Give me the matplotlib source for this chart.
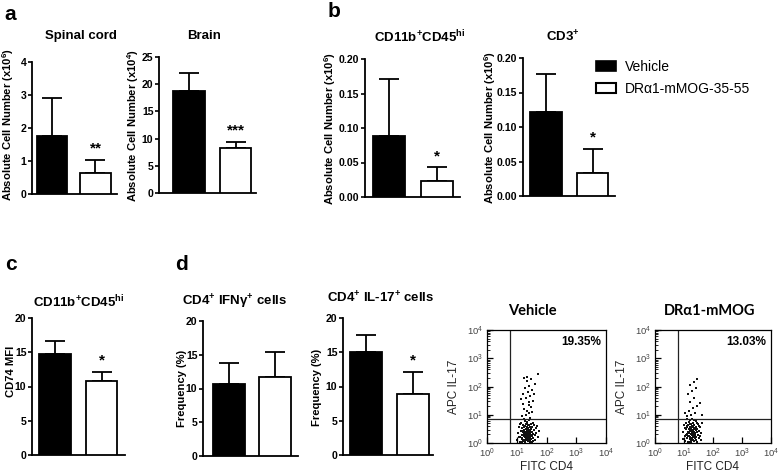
import matplotlib
matplotlib.use('Agg')
import matplotlib.pyplot as plt
from matplotlib.patches import Patch
import numpy as np

plt.rcParams['font.family'] = ['Liberation Sans', 'DejaVu Sans']
plt.rcParams['mathtext.fontset'] = 'custom'
plt.rcParams['mathtext.rm'] = 'Liberation Sans'
plt.rcParams['mathtext.bf'] = 'Liberation Sans:bold'
plt.rcParams['mathtext.it'] = 'Liberation Sans:italic'

# ---- data (mean and upper error) ----
groups = ['Vehicle', 'DR\u03b11-mMOG-35-55']
spinal_mean = [1.76, 0.64]
spinal_sem = [1.16, 0.39]
brain_mean = [18.7, 8.2]
brain_sem = [3.3, 1.2]
cd11b_mean = [0.088, 0.023]
cd11b_sem = [0.083, 0.020]
cd3_mean = [0.122, 0.034]
cd3_sem = [0.055, 0.034]
cd74_mean = [14.7, 10.8]
cd74_sem = [1.9, 1.3]
ifng_mean = [10.7, 11.7]
ifng_sem = [3.1, 3.7]
il17_mean = [15.0, 8.9]
il17_sem = [2.5, 3.2]

# flow cytometry events, log10 units (FITC CD4, APC IL-17)
veh_x = [1.02, 1.05, 1.08, 1.10, 1.12, 1.14, 1.15, 1.17, 1.18, 1.19,
         1.20, 1.21, 1.22, 1.23, 1.24, 1.25, 1.26, 1.26, 1.27, 1.28,
         1.28, 1.29, 1.30, 1.30, 1.31, 1.32, 1.32, 1.33, 1.33, 1.34,
         1.34, 1.35, 1.35, 1.36, 1.36, 1.37, 1.37, 1.38, 1.38, 1.39,
         1.39, 1.40, 1.40, 1.41, 1.41, 1.42, 1.42, 1.43, 1.43, 1.44,
         1.45, 1.45, 1.46, 1.47, 1.47, 1.48, 1.49, 1.50, 1.51, 1.52,
         1.53, 1.54, 1.55, 1.56, 1.58, 1.60, 1.62, 1.64, 1.66, 1.70,
         1.16, 1.24, 1.29, 1.31, 1.34, 1.37, 1.40, 1.44, 1.27, 1.22,
         1.19, 1.36, 1.33, 1.46, 1.50, 1.57, 1.11, 1.06, 1.74, 1.68,
         1.18, 1.30, 1.42, 1.36, 1.25, 1.48, 1.20, 1.40, 1.55, 1.30,
         1.45, 1.22, 1.38, 1.52, 1.28, 1.42, 1.60, 1.33, 1.48, 1.25,
         1.40, 1.50, 1.15, 1.58, 1.35, 1.72, 1.45]
veh_y = [0.12, 0.35, 0.58, 0.20, 0.05, 0.44, 0.72, 0.28, 0.15, 0.52,
         0.38, 0.08, 0.62, 0.24, 0.46, 0.33, 0.12, 0.55, 0.78, 0.20,
         0.40, 0.04, 0.30, 0.50, 0.66, 0.16, 0.36, 0.26, 0.45, 0.09,
         0.58, 0.34, 0.22, 0.42, 0.70, 0.14, 0.30, 0.52, 0.38, 0.06,
         0.25, 0.47, 0.62, 0.18, 0.35, 0.28, 0.80, 0.10, 0.44, 0.56,
         0.22, 0.37, 0.03, 0.50, 0.30, 0.66, 0.15, 0.40, 0.25, 0.55,
         0.08, 0.33, 0.72, 0.18, 0.46, 0.28, 0.10, 0.52, 0.36, 0.20,
         0.02, 0.85, 0.60, 0.10, 0.48, 0.64, 0.12, 0.26, 0.32, 0.42,
         0.18, 0.55, 0.75, 0.58, 0.05, 0.62, 0.66, 0.22, 0.42, 0.60,
         0.95, 1.00, 1.05, 1.15, 1.22, 1.28, 1.38, 1.45, 1.50, 1.58,
         1.65, 1.72, 1.80, 1.88, 1.95, 2.02, 2.10, 2.18, 2.25, 2.30,
         1.35, 1.10, 1.55, 1.75, 2.35, 2.45, 0.90]
dr_x = [0.95, 0.98, 1.00, 1.02, 1.04, 1.06, 1.08, 1.09, 1.10, 1.12,
        1.13, 1.14, 1.15, 1.16, 1.17, 1.18, 1.19, 1.20, 1.20, 1.21,
        1.22, 1.23, 1.23, 1.24, 1.25, 1.25, 1.26, 1.27, 1.27, 1.28,
        1.28, 1.29, 1.30, 1.30, 1.31, 1.32, 1.32, 1.33, 1.34, 1.34,
        1.35, 1.36, 1.36, 1.37, 1.38, 1.39, 1.40, 1.40, 1.41, 1.42,
        1.43, 1.44, 1.45, 1.46, 1.47, 1.48, 1.50, 1.52, 1.54, 1.56,
        1.58, 1.60, 1.62, 1.11, 1.18, 1.26, 1.30, 1.21, 1.16, 1.07,
        1.03, 1.13, 1.24, 1.35, 1.44, 1.50, 1.39, 1.29, 1.19, 1.09,
        1.10, 1.25, 1.38, 1.18, 1.30, 1.45, 1.22, 1.35, 1.15, 1.28,
        1.40, 1.20, 1.33, 1.45, 1.55, 1.05, 1.62]
dr_y = [0.15, 0.40, 0.62, 0.25, 0.08, 0.48, 0.70, 0.32, 0.18, 0.55,
        0.40, 0.05, 0.65, 0.26, 0.50, 0.36, 0.14, 0.58, 0.80, 0.22,
        0.44, 0.03, 0.32, 0.52, 0.68, 0.17, 0.38, 0.28, 0.47, 0.10,
        0.60, 0.35, 0.23, 0.43, 0.72, 0.12, 0.31, 0.54, 0.40, 0.07,
        0.26, 0.48, 0.63, 0.19, 0.36, 0.29, 0.78, 0.11, 0.45, 0.57,
        0.21, 0.38, 0.04, 0.51, 0.30, 0.66, 0.16, 0.42, 0.26, 0.56,
        0.09, 0.34, 0.70, 0.84, 0.02, 0.86, 0.58, 0.66, 0.76, 0.30,
        0.52, 0.24, 0.12, 0.82, 0.72, 0.60, 0.52, 0.15, 0.46, 0.60,
        0.95, 1.00, 1.05, 1.15, 1.25, 1.30, 1.45, 1.60, 1.75, 1.85,
        1.95, 2.05, 2.15, 2.25, 1.40, 1.05, 1.00]
veh_pct = '19.35%'
dr_pct = '13.03%'

W, H = 778, 475
fig = plt.figure(figsize=(W / 100, H / 100), dpi=100)


def px_axes(left, top, right, bottom):
    return fig.add_axes([left / W, 1 - bottom / H, (right - left) / W, (bottom - top) / H])


def bar_panel(box, mean, sem, ymax, yticks, fmt, star):
    axis_x, b1l, b1r, b2l, b2r, end_x, top, bottom = box
    ax = px_axes(axis_x, top, end_x, bottom)
    c1 = (b1l + b1r) / 2
    c2 = (b2l + b2r) / 2
    sp = c2 - c1
    width = ((b1r - b1l) + (b2r - b2l)) / 2 / sp
    ax.bar([0, 1], mean, width=width, color=['black', 'white'],
           edgecolor='black', linewidth=1.3, zorder=3)
    ax.errorbar([0, 1], mean, yerr=[[0, 0], sem], fmt='none', ecolor='black',
                elinewidth=1.3, capsize=7, capthick=1.3, zorder=2)
    ax.set_xlim((axis_x - c1) / sp, (end_x - c1) / sp)
    ax.set_ylim(0, ymax)
    ax.spines['top'].set_visible(False)
    ax.spines['right'].set_visible(False)
    ax.spines['left'].set_linewidth(1.3)
    ax.spines['bottom'].set_linewidth(1.3)
    ax.set_xticks([])
    ax.set_yticks(yticks)
    ax.set_yticklabels([fmt.format(t) for t in yticks], fontweight='bold', fontsize=7.6)
    ax.tick_params(axis='y', length=3, width=1.2, pad=1)
    ax.patch.set_alpha(0)
    if star:
        ax.annotate(star, (1, mean[1] + sem[1]), xytext=(0, 3), textcoords='offset points',
                    ha='center', va='bottom', fontsize=11, fontweight='bold')
    return ax


bar_panel((32, 36, 68, 81, 110, 117, 62, 194), spinal_mean, spinal_sem, 4, [0, 1, 2, 3, 4], '{:g}', '**')
bar_panel((159, 173, 205, 220, 251, 256, 57, 193), brain_mean, brain_sem, 25, [0, 5, 10, 15, 20, 25], '{:g}', '***')
bar_panel((365, 373, 405, 421, 453, 460, 59, 197), cd11b_mean, cd11b_sem, 0.20,
          [0, 0.05, 0.10, 0.15, 0.20], '{:.2f}', '*')
bar_panel((523, 530, 562, 577, 608, 615, 58, 196), cd3_mean, cd3_sem, 0.20,
          [0, 0.05, 0.10, 0.15, 0.20], '{:.2f}', '*')
bar_panel((32, 39, 71, 86, 117, 125, 318, 455), cd74_mean, cd74_sem, 20, [0, 5, 10, 15, 20], '{:g}', '*')
bar_panel((203, 213, 245, 259, 291, 298, 321, 456), ifng_mean, ifng_sem, 20, [0, 5, 10, 15, 20], '{:g}', '')
bar_panel((343, 349, 382, 397, 428, 433, 318, 455), il17_mean, il17_sem, 20, [0, 5, 10, 15, 20], '{:g}', '*')


def flow_panel(box, xs, ys, pct):
    left, top, right, bottom = box
    ax = px_axes(left, top, right, bottom)
    ax.set_xscale('log')
    ax.set_yscale('log')
    ax.set_xlim(1, 1e4)
    ax.set_ylim(1, 1e4)
    ax.scatter(np.power(10.0, xs), np.power(10.0, ys), s=0.6, marker='s',
               color='#111111', linewidths=0)
    ax.axvline(10 ** 0.78, color='#222222', lw=0.9)
    ax.axhline(10 ** 0.84, color='#222222', lw=0.9)
    for s in ax.spines.values():
        s.set_linewidth(0.9)
    ax.set_xticks([1, 10, 100, 1000, 10000])
    ax.set_yticks([1, 10, 100, 1000, 10000])
    ax.set_xticklabels(['$10^0$', '$10^1$', '$10^2$', '$10^3$', '$10^4$'])
    ax.set_yticklabels(['$10^0$', '$10^1$', '$10^2$', '$10^3$', '$10^4$'])
    ax.tick_params(which='both', direction='in', labelsize=6.8, labelcolor='#444444',
                   top=False, right=False)
    ax.tick_params(axis='x', pad=3)
    ax.tick_params(axis='y', pad=3)
    ax.tick_params(which='major', length=4, width=0.9)
    ax.tick_params(which='minor', length=2.5, width=0.6)
    ax.text(0.96, 0.87, pct, transform=ax.transAxes, ha='right', va='baseline',
            fontsize=8.5, fontweight='bold')
    return ax


flow_panel((487, 330, 606, 443), veh_x, veh_y, veh_pct)
flow_panel((655, 330, 771, 443), dr_x, dr_y, dr_pct)


def ftext(x, y, s, **kw):
    fig.text(x / W, 1 - y / H, s, **kw)


# panel letters
for x, y, s in [(4, 20, 'a'), (328, 17, 'b'), (5, 270, 'c'), (175, 270, 'd')]:
    ftext(x, y, s, fontsize=15, fontweight='bold', va='baseline', ha='left')

# titles
hi = r'CD11b$^{\mathbf{+}}$CD45$^{\mathbf{hi}}$'
for x, y, s in [(81, 39, 'Spinal cord'), (204, 39, 'Brain'), (420, 42, hi),
                (563, 42, r'CD3$^{\mathbf{+}}$'), (79, 307, hi),
                (235, 306, r'CD4$^{\mathbf{+}}$ IFN$\mathbf{\gamma}^{\mathbf{+}}$ cells'),
                (381, 303, r'CD4$^{\mathbf{+}}$ IL-17$^{\mathbf{+}}$ cells')]:
    ftext(x, y, s, fontsize=9.5, fontweight='bold', ha='center', va='baseline')

ftext(532, 315, 'Vehicle', fontsize=10.5, fontweight='bold', ha='center', va='baseline',
      family=['Lato', 'DejaVu Sans'])
ftext(710, 315, 'DR\u03b11-mMOG', fontsize=10.5, fontweight='bold', ha='center', va='baseline',
      family=['Lato', 'DejaVu Sans'])

# y labels
ylab6 = r'Absolute Cell Number (x10$^{\mathbf{6}}$)'
ylab4 = r'Absolute Cell Number (x10$^{\mathbf{4}}$)'
for x, y, s in [(8, 124, ylab6), (133, 125, ylab4), (330, 128, ylab6), (490, 127, ylab6),
                (11, 371, 'CD74 MFI'), (182, 388, 'Frequency (%)'), (317, 387, 'Frequency (%)')]:
    ftext(x, y, s, fontsize=8.1, fontweight='bold', rotation=90, ha='center', va='center')

for x in [454, 622]:
    ftext(x, 387, 'APC IL-17', fontsize=8.5, rotation=90, ha='center', va='center', color='#222222')
for x in [546, 713]:
    ftext(x, 467, 'FITC CD4', fontsize=8.5, ha='center', va='center', color='#222222')

# legend
handles = [Patch(facecolor='black', edgecolor='black', linewidth=1.2),
           Patch(facecolor='white', edgecolor='black', linewidth=1.5)]
fig.legend(handles, groups, loc='upper left', bbox_to_anchor=(596 / W, 1 - 60 / H),
           frameon=False, fontsize=10, handlelength=1.45, handleheight=0.75,
           handletextpad=0.6, labelspacing=0.55, borderpad=0, borderaxespad=0)

fig.savefig('out.png', dpi=100)
